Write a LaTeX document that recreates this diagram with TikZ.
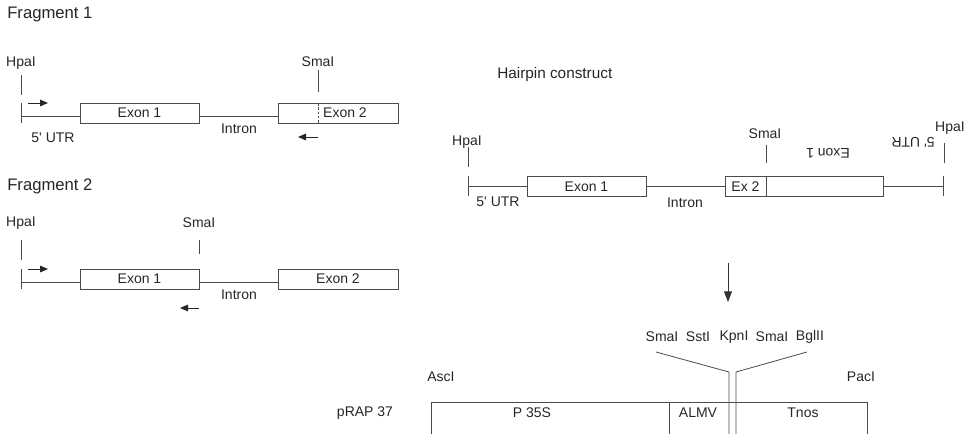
\documentclass[tikz,border=0pt]{standalone}
\usepackage{fontspec}
\setmainfont{Liberation Sans}
\usepackage{tikz}
\usetikzlibrary{arrows.meta,positioning}

\begin{document}
\begin{tikzpicture}[
  x=0.75pt,y=-0.75pt,
  >={Triangle[length=6pt,width=5pt]},
  every node/.style={text=black!85},
  exon/.style={draw=black!70,line width=0.6pt,minimum height=15pt,inner sep=0pt,
    font=\fontsize{10.5}{12}\selectfont},
  lab/.style={font=\fontsize{10.5}{12}\selectfont,inner sep=0pt},
  title/.style={font=\fontsize{12.5}{14}\selectfont,anchor=west,inner sep=0pt},
  line/.style={draw=black!70,line width=0.6pt},
  primer/.style={->,draw=black!85,line width=0.7pt}
]
\useasboundingbox (0,0) rectangle (965,434);

% Fragment 1
\node[title] (f1) at (7,15) {Fragment 1};
\node[lab] (hp1) at (21,63) {HpaI};
\node[lab] (sm1) at (318,62) {SmaI};
\node[exon,minimum width=89.25pt] (a1) at (139.5,113) {Exon 1};
\node[exon,minimum width=90pt] (b1) at (338,113) {\hspace*{10.5pt}Exon 2};
\coordinate (s1) at (21,116);
\draw[line] (21,75) -- (21,95);
\draw[line] (21,103) -- (21,123);
\draw[line] (s1) -- (s1 -| a1.west);
\draw[line] (s1 -| a1.east) -- (s1 -| b1.west);
\draw[line] (318,70) -- (318,92);
\draw[line,dashed,dash pattern=on 2pt off 1.2pt] (318,103) -- (318,123);
\node[lab] (u1) at (53,138) {5\textquotesingle{} UTR};
\node[lab] (i1) at (239,129) {Intron};
\draw[primer] (28,103) -- (48,103);
\draw[primer] (318,137) -- (298,137);

% Fragment 2
\node[title] (f2) at (7,186) {Fragment 2};
\node[lab] (hp2) at (21,223) {HpaI};
\node[lab] (sm2) at (199,223) {SmaI};
\node[exon,minimum width=89.25pt] (a2) at (139.5,279) {Exon 1};
\node[exon,minimum width=90pt] (b2) at (338,279) {Exon 2};
\coordinate (s2) at (21,282);
\draw[line] (21,240) -- (21,260);
\draw[line] (21,269) -- (21,289);
\draw[line] (s2) -- (s2 -| a2.west);
\draw[line] (s2 -| a2.east) -- (s2 -| b2.west);
\draw[line] (199,240) -- (199,254);
\node[lab] (i2) at (239,295) {Intron};
\draw[primer] (28,269) -- (48,269);
\draw[primer] (199,308) -- (180,308);

% Hairpin construct
\node[title,font=\fontsize{11.5}{13}\selectfont] (hc) at (497,75) {Hairpin construct};
\node[lab] (hp3) at (467,142) {HpaI};
\node[lab] (sm3) at (765,134) {SmaI};
\node[lab] (hp4) at (950,128) {HpaI};
\node[exon,minimum width=89.25pt] (a3) at (586.5,186.5) {Exon 1};
\node[exon,minimum width=30.75pt] (x3) at (745.5,186.5) {Ex 2};
\node[exon,minimum width=87.75pt] (r3) at (824.5,186.5) {};
\node[lab,rotate=180] (ra3) at (828,153) {Exon 1};
\node[lab,rotate=180] (ru3) at (913,142) {5\textquotesingle{} UTR};
\coordinate (s3) at (468,186);
\coordinate (e3) at (943,186);
\draw[line] (468,147) -- (468,167);
\draw[line] (468,176) -- (468,196);
\draw[line] (s3) -- (s3 -| a3.west);
\draw[line] (s3 -| a3.east) -- (s3 -| x3.west);
\draw[line] (e3 -| r3.east) -- (e3);
\draw[line] (943,176) -- (943,196);
\draw[line] (944,143) -- (944,163);
\draw[line] (766,145) -- (766,163);
\node[lab] (u3) at (498,202) {5\textquotesingle{} UTR};
\node[lab] (i3) at (685,203) {Intron};

% into pRAP 37
\coordinate (dtop) at (728,263);
\coordinate (dbot) at (728,302);
\draw[->,draw=black!80,line width=0.7pt,>={Triangle[length=8pt,width=6pt]}] (dtop) -- (dbot);

\node[lab] (p1) at (662,337) {SmaI};
\node[lab] (p2) at (698,337) {SstI};
\node[lab] (p3) at (734,337) {KpnI};
\node[lab] (p4) at (772,337) {SmaI};
\node[lab] (p5) at (810,337) {BglII};
\node[lab] (asc) at (441,377) {AscI};
\node[lab] (pac) at (861,377) {PacI};
\node[lab] (prap) at (365,413) {pRAP 37};
\node[lab] (p35) at (532,413) {P 35S};
\node[lab] (almv) at (698,413) {ALMV};
\node[lab] (tnos) at (803,413) {Tnos};
\draw[line] (431,434) |- (867,402) -- (867,434);
\draw[line] (669,402) -- (669,434);
\draw[line] (656,352) -- (729,372) -- (729,434);
\draw[line] (807,352) -- (736,372) -- (736,434);
\end{tikzpicture}
\end{document}
